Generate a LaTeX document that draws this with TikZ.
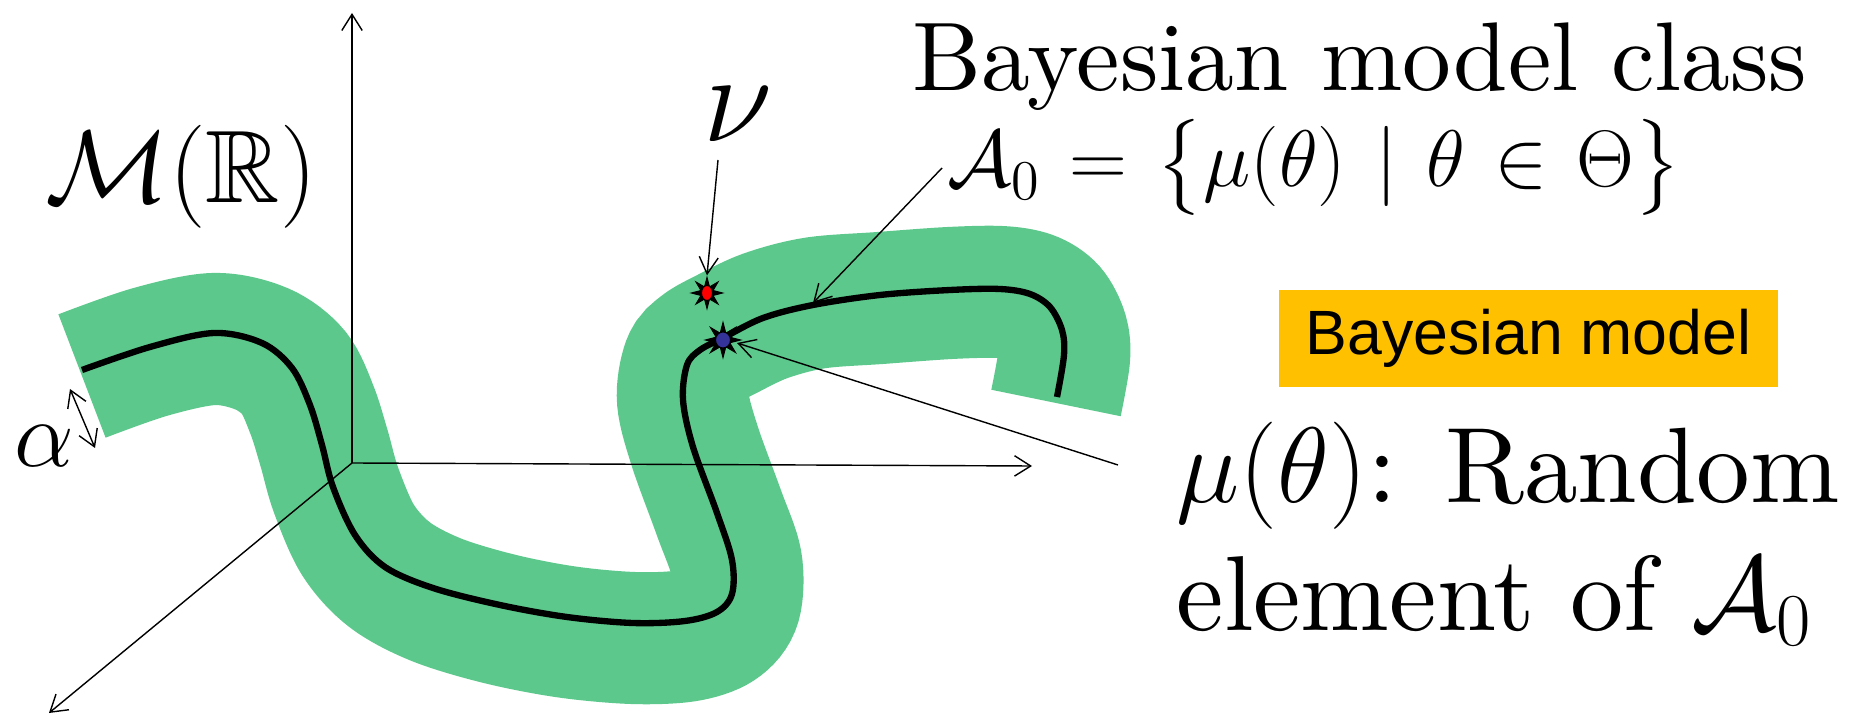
\RequirePackage{fix-cm}
\documentclass[tikz,border=0pt]{standalone}
\usepackage{amsmath,amssymb}
\DeclareFontFamily{U}{msb}{}
\DeclareFontShape{U}{msb}{m}{n}{<-6> msbm5 <6-8> msbm7 <8-> msbm10}{}
\usepackage{fontspec}
\setmainfont{lmroman10-regular.otf}
\newfontfamily\arialfont{Liberation Sans}
\usetikzlibrary{arrows.meta,shapes.geometric}
\definecolor{bandgreen}{RGB}{92,200,140}
\definecolor{boxorange}{RGB}{255,192,0}
\definecolor{dotblue}{RGB}{51,51,153}
\begin{document}
\begin{tikzpicture}[x=0.01cm,y=-0.01cm,
  axis/.style={line width=0.4pt,-{Straight Barb[length=4.6pt,width=5.8pt]}},
  ptr/.style={line width=0.4pt,-{Straight Barb[length=4.8pt,width=5.4pt]}},
  band/.style={draw=bandgreen,line width=1.32cm,line cap=butt},
  model/.style={line width=1.8pt,line cap=butt},
  lbl/.style={inner sep=0pt,anchor=base west},
  starmark/.style={star,star points=8,star point ratio=2.4,fill=black,draw=black,line width=0.3pt,inner sep=0pt,minimum size=#1},
  dotmark/.style={ellipse,draw=black,line width=0.3pt,inner sep=0pt}
]
\useasboundingbox (0,0) rectangle (1849,716);

% band
\draw[band] plot[smooth,tension=0.55] coordinates {(82,376) (150,352) (214,339) (262,349) (294,373) (312,410) (324,448) (336,490) (358,540) (390,575) (437,600) (500,619) (567,632) (633,638) (685,636) (718,625) (735,603) (736,562) (719,513) (695,447) (683,400) (688,364) (702,348) (725,335) (765,316) (815,303) (880,298) (950,293) (1000,292) (1030,297) (1050,310) (1062,333) (1064,358) (1056,403)};

% axes
\coordinate (O) at (352,463);
\coordinate (zT) at (352,13);
\coordinate (xT) at (1032,466);
\coordinate (yT) at (49,713);
\draw[axis] (O) -- (zT);
\draw[axis] (O) -- (xT);
\draw[axis] (O) -- (yT);

% model curve
\draw[model] plot[smooth,tension=0.55] coordinates {(82,370) (150,347) (214,333) (262,343) (292,368) (310,405) (322,445) (333,487) (355,535) (385,567) (433,588) (500,605) (567,617) (633,623) (685,621) (717,612) (732,594) (732,560) (717,513) (693,447) (683,400) (687,365) (700,350) (723,338) (763,318) (813,305) (880,295) (950,290) (1000,289) (1030,294) (1050,307) (1062,330) (1064,355) (1057,397)};

% stars
\node[starmark=0.31cm] (red) at (707,293) {};
\node[dotmark,fill=red,minimum width=0.11cm,minimum height=0.15cm] (redc) at (red) {};
\node[starmark=0.35cm] (blue) at (723,340) {};
\node[dotmark,fill=dotblue,minimum width=0.15cm,minimum height=0.16cm] (bluec) at (blue) {};

% labels
\node[lbl] (title) at (912,91) {\fontsize{27.75}{33}\selectfont Bayesian model class};
\node[lbl] (aset) at (947,187) {\fontsize{22.8}{27}\selectfont\thickmuskip=6.5mu plus 2mu $\mathcal{A}_0=\bigl\{\mu(\theta)\mid\theta\in\Theta\bigr\}$};
\node[lbl] (mudef) at (1176,503) {\fontsize{30.5}{36}\selectfont $\mu(\theta)$: Random};
\node[lbl] (elem) at (1176,630) {\fontsize{30.3}{36}\selectfont element of $\mathcal{A}_0$};
\node[lbl] (MR) at (45,203) {\fontsize{29.3}{35}\selectfont $\mathcal{M}(\mathbb{R})$};
\node[lbl] (nu) at (703,142) {\fontsize{36}{42}\selectfont $\nu$};
\node[lbl] (alpha) at (14,467) {\fontsize{27}{32}\selectfont $\alpha$};
\node[fill=boxorange,minimum width=4.99cm,minimum height=0.97cm,inner sep=0pt] (bm) at (1528.5,338.5) {\fontsize{17.8}{21}\arialfont Bayesian model};

% pointers
\coordinate (nuS) at (718,160);
\coordinate (a0S) at (942,168);
\coordinate (a0T) at (813,303);
\coordinate (muS) at (1118,465);
\coordinate (muT) at (737,343);
\draw[ptr] (nuS) -- (red.north);
\draw[ptr] (a0S) -- (a0T);
\draw[ptr] (muS) -- (muT);

% alpha width marker
\coordinate (alA) at (70,389);
\coordinate (alB) at (95,448);
\draw[line width=0.4pt,{Straight Barb[length=4.6pt,width=5.6pt]}-{Straight Barb[length=4.6pt,width=5.6pt]}] (alA) -- (alB);
\end{tikzpicture}
\end{document}
